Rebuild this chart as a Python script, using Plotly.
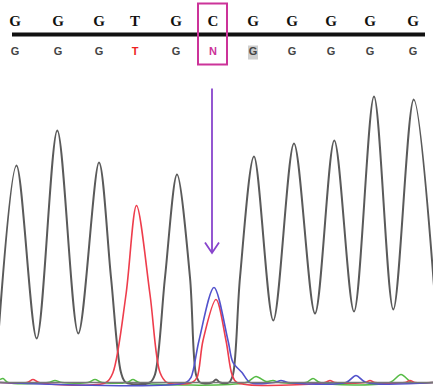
import plotly.graph_objects as go

# ---- data ----
ref_bases = list("GGGTGCGGGGG")
call_bases = list("GGGTGNGGGGG")
call_pos = [15, 58, 99, 135, 176, 213, 253, 292, 331, 370, 413]

# gray (G) trace: scan position / intensity
g_x = [-2, 16.5, 36.7, 57.3, 78.3, 99, 111, 121, 126, 150, 155, 165, 177, 190, 196, 200,
       212, 216, 220, 229, 233, 240, 254, 273.3, 294, 315, 334.3, 354, 374, 393.3, 413.7, 436]
g_y = [42, 217, 44, 252, 49, 220, 105, 10, 0, 0, 8, 105, 208, 105, 8, 0,
       0, 3, 0, 0, 8, 105, 226, 62, 239, 69, 242, 71, 286, 73, 283, 70]

# red (T) trace
t_x = [0, 27, 33, 39, 106, 113, 126, 136.5, 150, 160, 167, 192, 197, 203, 216, 226, 232, 237,
       325, 330, 335, 365, 370, 375, 405, 410, 415, 433]
t_y = [0, 0, 3, 0, 0, 10, 88, 177, 88, 10, 0, 0, 5, 42, 83, 42, 8, 0,
       0, 2, 0, 0, 2, 0, 0, 2, 0, 0]

# blue (C) trace
c_x = [0, 186, 191, 199, 214, 228, 233, 242, 250, 274, 281, 288, 346, 356, 366, 433]
c_y = [0, 0, 5, 42, 95, 42, 20, 10, 0, 0, 2, 0, 0, 7, 0, 0]

# green (A) trace
a_x = [0, 3, 8, 48, 55, 62, 88, 95, 102, 127, 133, 139, 246, 256, 266, 273, 280,
       306, 313, 320, 390, 401, 412, 433]
a_y = [3, 4, 0, 0, 2, 0, 0, 3, 0, 0, 3, 0, 0, 6, 1, 2, 0,
       0, 4, 0, 0, 8, 0, 0]

GRAY = "#5a5a5a"
RED = "#ee3d4c"
BLUE = "#5252cc"
GREEN = "#55bb44"
MAG = "#cc3399"

fig = go.Figure()
for xs, ys, col, w in [(a_x, a_y, GREEN, 1.5), (g_x, g_y, GRAY, 2),
                       (t_x, t_y, RED, 1.6), (c_x, c_y, BLUE, 1.6)]:
    fig.add_trace(go.Scatter(x=xs, y=ys, mode="lines",
                             line=dict(color=col, width=w, shape="spline", smoothing=0.9),
                             hoverinfo="skip", showlegend=False))

# baseline
fig.add_shape(type="line", x0=0, x1=433, y0=0, y1=0, line=dict(color="#777777", width=1.5))

# sequence line
fig.add_shape(type="line", x0=12, x1=425, y0=348, y1=348, line=dict(color="#111111", width=4))
# highlight behind the G after N
fig.add_shape(type="rect", x0=248, x1=258, y0=323, y1=337, fillcolor="#cfcfcf",
              line=dict(width=0), layer="below")
# magenta box around C/N column
fig.add_shape(type="rect", x0=198, x1=227, y0=318, y1=379, line=dict(color=MAG, width=2))

# arrow
fig.add_shape(type="line", x0=212, x1=212, y0=294, y1=130, line=dict(color="#8844cc", width=1.8))
fig.add_shape(type="path", path="M 205,140 L 212,129.5 L 219,140",
              line=dict(color="#8844cc", width=1.8))

ref_col = ["#111111"] * len(ref_bases)
call_col = [("#ee2222" if b == "T" else (MAG if b == "N" else "#444444")) for b in call_bases]

fig.add_trace(go.Scatter(x=call_pos, y=[360] * len(call_pos), mode="text", text=ref_bases,
                         textfont=dict(family="Liberation Serif", size=15, color=ref_col,
                                       weight="bold"),
                         hoverinfo="skip", showlegend=False))
fig.add_trace(go.Scatter(x=call_pos, y=[330] * len(call_pos), mode="text", text=call_bases,
                         textfont=dict(family="Liberation Sans", size=11, color=call_col,
                                       weight="bold"),
                         hoverinfo="skip", showlegend=False))

fig.update_layout(width=433, height=387, margin=dict(l=0, r=0, t=0, b=0),
                  paper_bgcolor="white", plot_bgcolor="white")
fig.update_xaxes(range=[0, 433], visible=False)
fig.update_yaxes(range=[-4.5, 382.5], visible=False)
fig.write_html("out.html")
